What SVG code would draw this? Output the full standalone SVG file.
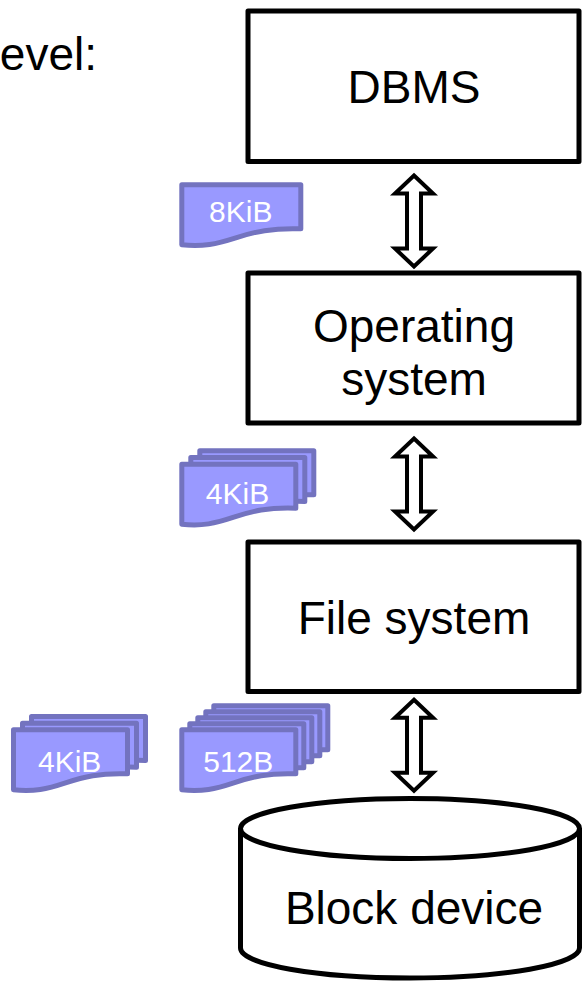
<svg xmlns="http://www.w3.org/2000/svg" xmlns:xlink="http://www.w3.org/1999/xlink" width="582" height="982" viewBox="0 0 582 982">
<style>
  .box { fill: #ffffff; stroke: #000000; stroke-width: 5; stroke-linejoin: round; }
  .lbl { font-family: "Liberation Sans", Arial, sans-serif; font-size: 46px; fill: #000000; text-anchor: middle; }
  .page { fill: #9999ff; stroke: #7373bf; stroke-width: 5; stroke-linejoin: round; }
  .plbl { font-family: "Liberation Sans", Arial, sans-serif; font-size: 30px; fill: #ffffff; text-anchor: middle; }
  .arrow { fill: #ffffff; stroke: #000000; stroke-width: 4; stroke-linejoin: miter; }
</style>
<defs>
  <path id="pg" d="M0,0 H114 V44 C86,43 70,47 52,53 C34,59 20,62.5 0,60 Z"/>
  <path id="pgw" d="M0,0 H119 V44 C90,43 73,47 54,53 C35,59 21,62.5 0,60 Z"/>
  <path id="dbl" d="M0,0 L19,18 L7,18 L7,73 L19,73 L0,91 L-19,73 L-7,73 L-7,18 L-19,18 Z"/>
</defs>

<text class="lbl" x="97" y="70" text-anchor="end" style="text-anchor:end">evel:</text>

<g id="dbms">
  <rect class="box" x="248" y="11" width="331" height="150.5"/>
  <text class="lbl" x="414" y="102.5">DBMS</text>
</g>

<g id="os">
  <rect class="box" x="248" y="273" width="331" height="150"/>
  <text class="lbl" x="414" y="342">Operating</text>
  <text class="lbl" x="414" y="395">system</text>
</g>

<g id="fs">
  <rect class="box" x="248" y="542" width="331" height="149.5"/>
  <text class="lbl" x="414" y="633.5">File system</text>
</g>

<g id="blockdevice">
  <path class="box" d="M240.5,828.5 A169.5,30 0 0 1 579.5,828.5 V948 A169.5,30 0 0 1 240.5,948 Z"/>
  <path class="box" style="fill:none" d="M240.5,828.5 A169.5,30 0 0 0 579.5,828.5"/>
  <text class="lbl" x="414" y="924">Block device</text>
</g>

<g id="page8k">
  <use class="page" xlink:href="#pgw" href="#pgw" transform="translate(181.8,184.8)"/>
  <text class="plbl" x="240.8" y="222">8KiB</text>
</g>

<g id="pages4k-os">
  <use class="page" xlink:href="#pg" href="#pg" transform="translate(199.8,450.8)"/>
  <use class="page" xlink:href="#pg" href="#pg" transform="translate(190.8,457.5)"/>
  <use class="page" xlink:href="#pg" href="#pg" transform="translate(181.8,464.2)"/>
  <text class="plbl" x="237.5" y="504">4KiB</text>
</g>

<g id="pages4k-fs">
  <use class="page" xlink:href="#pg" href="#pg" transform="translate(31.5,716.5)"/>
  <use class="page" xlink:href="#pg" href="#pg" transform="translate(22.5,723.2)"/>
  <use class="page" xlink:href="#pg" href="#pg" transform="translate(13.5,729.8)"/>
  <text class="plbl" x="69.7" y="771.7">4KiB</text>
</g>

<g id="pages512">
  <use class="page" xlink:href="#pg" href="#pg" transform="translate(213.8,705.8)"/>
  <use class="page" xlink:href="#pg" href="#pg" transform="translate(205.8,711.8)"/>
  <use class="page" xlink:href="#pg" href="#pg" transform="translate(197.8,717.8)"/>
  <use class="page" xlink:href="#pg" href="#pg" transform="translate(189.8,723.8)"/>
  <use class="page" xlink:href="#pg" href="#pg" transform="translate(181.8,729.8)"/>
  <text class="plbl" x="238.3" y="771.7">512B</text>
</g>

<g id="connectors">
  <use class="arrow" xlink:href="#dbl" href="#dbl" transform="translate(414,175.5)"/>
  <use class="arrow" xlink:href="#dbl" href="#dbl" transform="translate(414,438.5)"/>
  <use class="arrow" xlink:href="#dbl" href="#dbl" transform="translate(414,699.8)"/>
</g>
</svg>
